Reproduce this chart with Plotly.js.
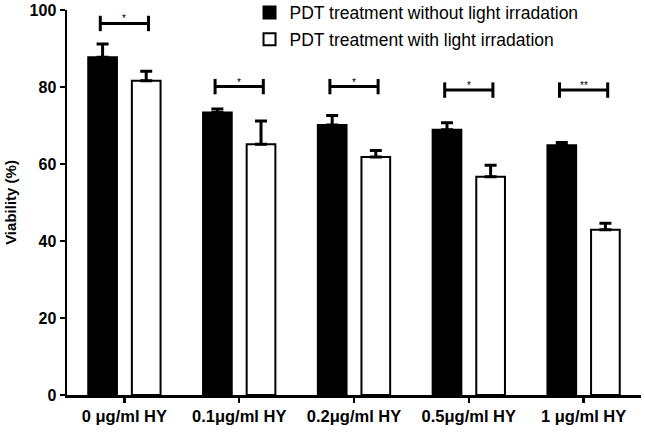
<!DOCTYPE html>
<html>
<head>
<meta charset="utf-8">
<script src="https://cdn.plot.ly/plotly-3.0.1.min.js"></script>
<style>html,body{margin:0;padding:0;background:#fff;}#chart{width:645px;height:432px;}</style>
</head>
<body>
<div id="chart"></div>
<script>
var categories = ['0 μg/ml HY', '0.1μg/ml HY', '0.2μg/ml HY', '0.5μg/ml HY', '1 μg/ml HY'];
var seriesNames = ['PDT treatment without light irradation', 'PDT treatment with light irradation'];
var withoutLight = [87.7, 73.4, 70.1, 68.9, 64.9];
var withoutLightErr = [3.5, 0.9, 2.5, 1.8, 0.7];
var withLight = [81.6, 65.1, 61.8, 56.7, 42.9];
var withLightErr = [2.5, 6.1, 1.7, 3.0, 1.7];
var sigY = [96.5, 80.1, 80.1, 79.2, 79.2];
var sigLabels = ['*', '*', '*', '*', '**'];
var yTicks = [0, 20, 40, 60, 80, 100];

var xIdx = categories.map(function (c, i) { return i; });
var zeros = function (a) { return a.map(function () { return 0; }); };

var traces = [
  {
    type: 'bar', name: seriesNames[0], x: xIdx, y: withoutLight,
    width: 0.25, offset: -0.315,
    marker: {color: '#000', line: {color: '#000', width: 2}},
    error_y: {type: 'data', array: withoutLightErr, symmetric: false, arrayminus: zeros(withoutLightErr), color: '#000', thickness: 3, width: 6},
    legendgroup: 'a'
  },
  {
    type: 'bar', name: seriesNames[1], x: xIdx, y: withLight,
    width: 0.25, offset: 0.065,
    marker: {color: '#fff', line: {color: '#000', width: 2}},
    error_y: {type: 'data', array: withLightErr, symmetric: false, arrayminus: zeros(withLightErr), color: '#000', thickness: 3, width: 6},
    legendgroup: 'b'
  }
];

var shapes = [];
var annotations = [];
var hw = 0.21;
sigY.forEach(function (y, i) {
  shapes.push({type: 'line', xref: 'x', yref: 'y', x0: i - hw, x1: i + hw, y0: y, y1: y, line: {color: '#000', width: 3}});
  shapes.push({type: 'line', xref: 'x', yref: 'y', x0: i - hw, x1: i - hw, y0: y - 2, y1: y + 2, line: {color: '#000', width: 3}});
  shapes.push({type: 'line', xref: 'x', yref: 'y', x0: i + hw, x1: i + hw, y0: y - 2, y1: y + 2, line: {color: '#000', width: 3}});
  annotations.push({xref: 'x', yref: 'y', x: i, y: y, text: sigLabels[i], showarrow: false, yanchor: 'bottom', yshift: -3, font: {family: 'Liberation Sans, Arial', size: 10, color: '#000'}});
});

var layout = {
  width: 645, height: 432,
  margin: {l: 67, r: 4, t: 10, b: 37, autoexpand: false},
  paper_bgcolor: '#fff', plot_bgcolor: '#fff',
  barmode: 'overlay',
  showlegend: true,
  legend: {x: 0.318, y: 1.04, xanchor: 'left', yanchor: 'top', font: {family: 'Liberation Sans, Arial', size: 17.5, color: '#000'}, tracegroupgap: 1, bgcolor: 'rgba(0,0,0,0)', itemwidth: 30},
  xaxis: {
    range: [-0.5, 4.5], tickmode: 'array', tickvals: xIdx, ticktext: categories,
    showline: true, linecolor: '#000', linewidth: 2.5, ticks: 'outside', ticklen: 5, tickwidth: 2.5, tickcolor: '#000',
    showgrid: false, zeroline: false,
    tickfont: {family: 'Liberation Sans, Arial', size: 16.5, color: '#000', weight: 'bold'}
  },
  yaxis: {
    range: [0, 100], tickmode: 'array', tickvals: yTicks,
    showline: true, linecolor: '#000', linewidth: 2.5, ticks: 'outside', ticklen: 5, tickwidth: 2.5, tickcolor: '#000',
    showgrid: false, zeroline: false,
    tickfont: {family: 'Liberation Sans, Arial', size: 16, color: '#000', weight: 'bold'},
    title: {text: 'Viability (%)', font: {family: 'Liberation Sans, Arial', size: 15, color: '#000', weight: 'bold'}, standoff: 10}
  },
  shapes: shapes,
  annotations: annotations
};

Plotly.newPlot('chart', traces, layout, {displayModeBar: false, staticPlot: true});
</script>
</body>
</html>
